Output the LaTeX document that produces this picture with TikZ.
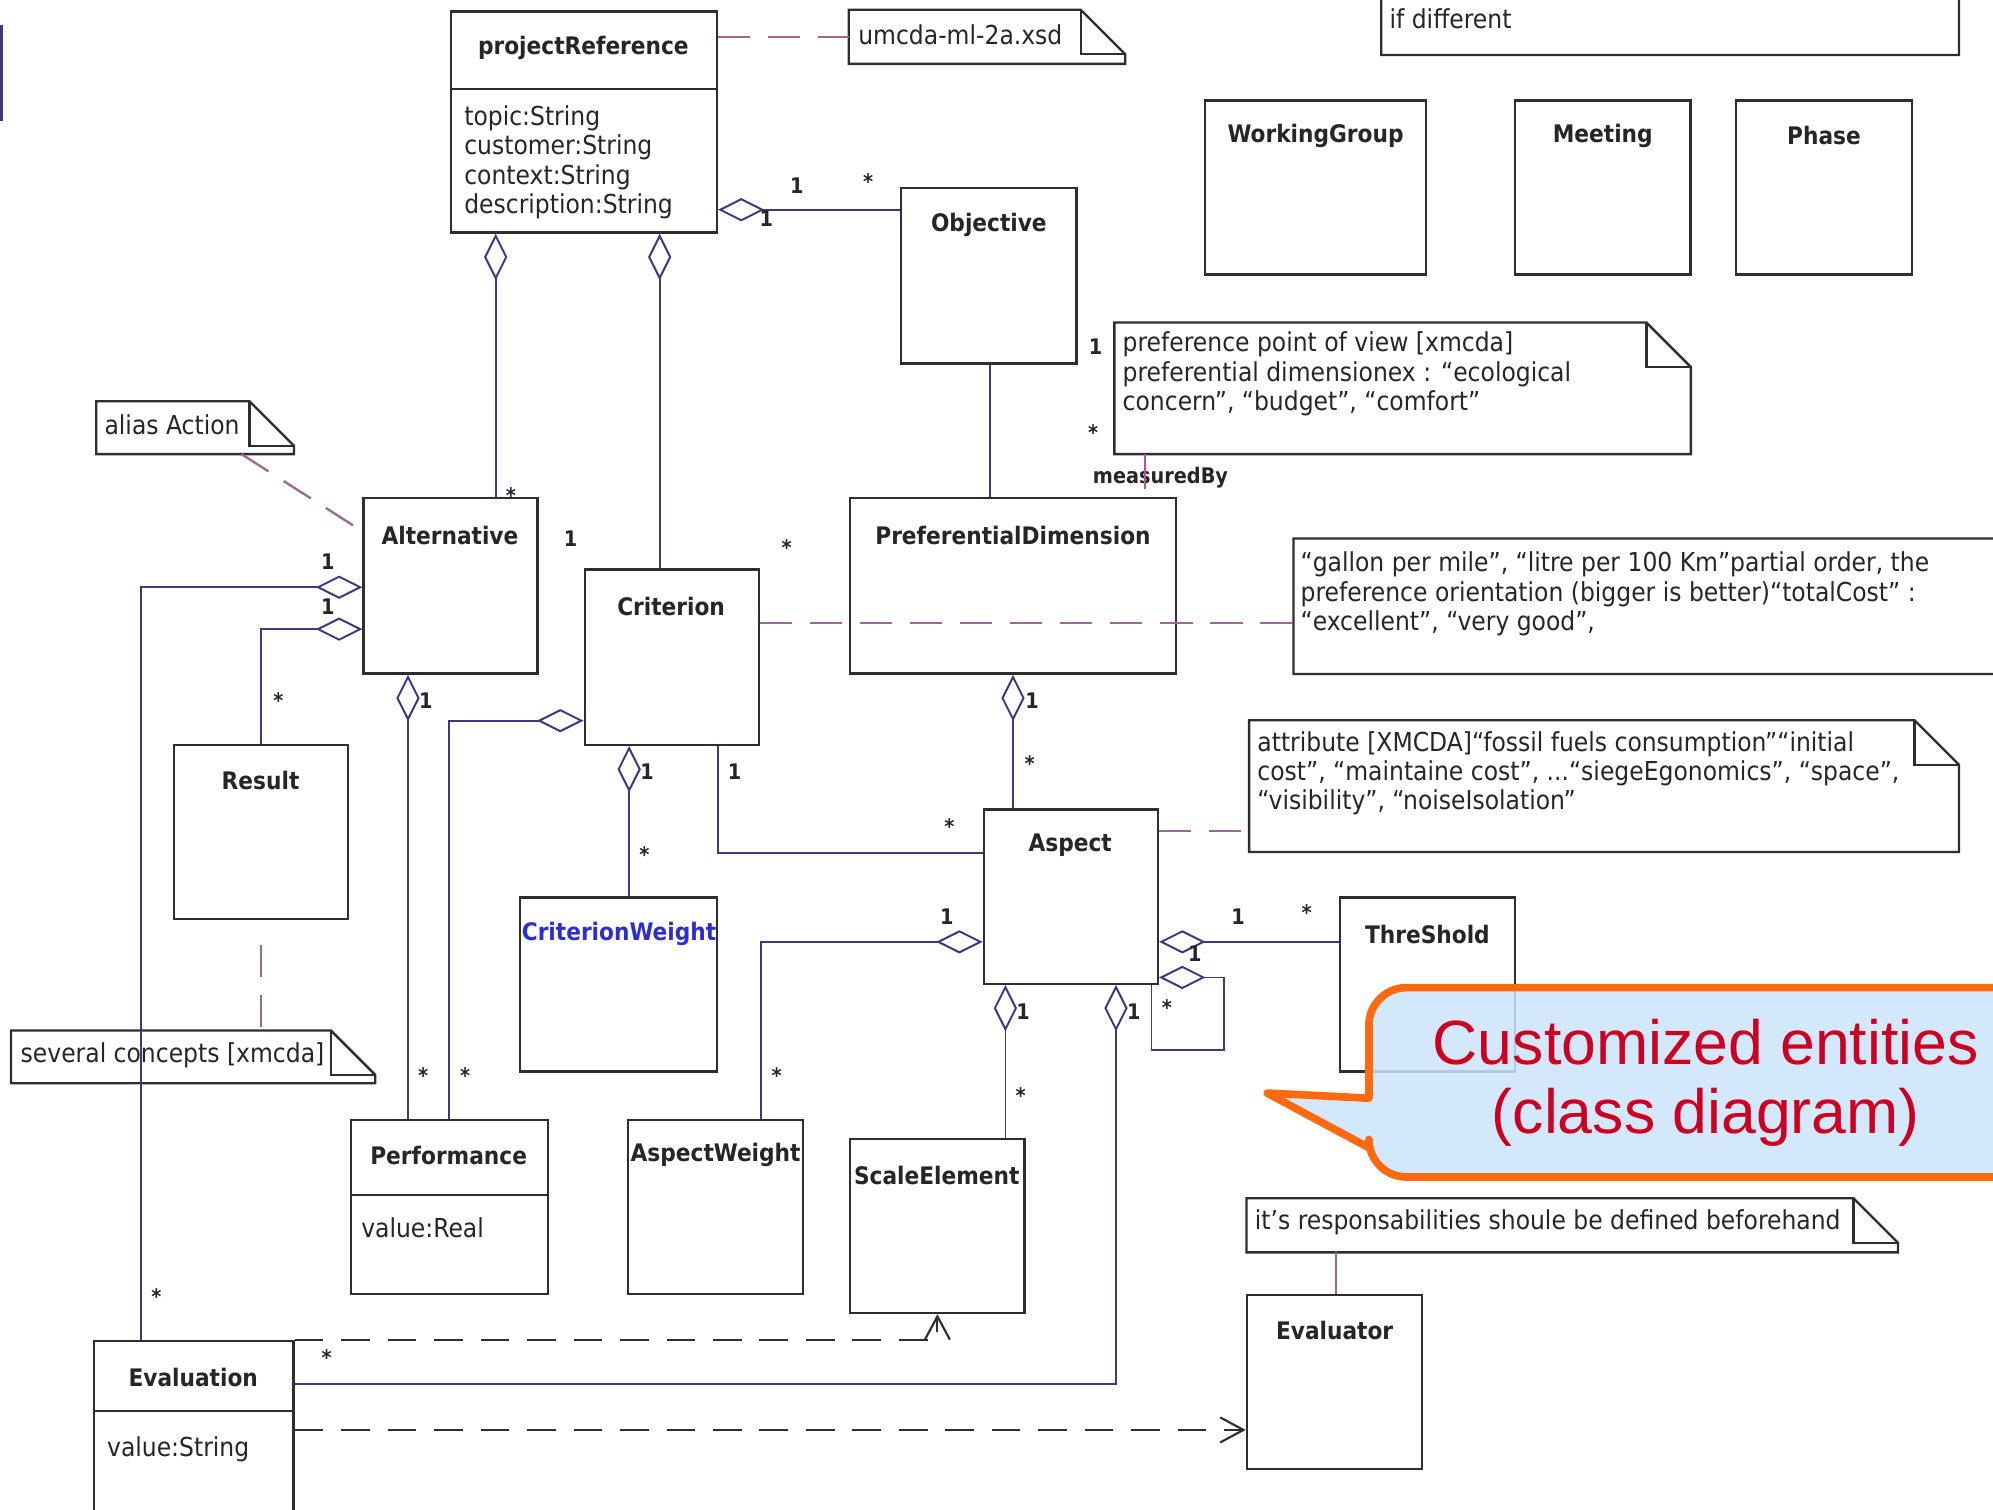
\documentclass[tikz,border=0pt]{standalone}
\usepackage{fontspec}
\setmainfont{DejaVu Sans Condensed}
\newfontfamily\calloutfont{Liberation Sans}
\usepackage{tikz}
\usetikzlibrary{positioning,calc,fit,arrows.meta}

\definecolor{clsline}{HTML}{2E2E2E}
\definecolor{txtgrey}{HTML}{262626}
\definecolor{assocblue}{HTML}{3A3A80}
\definecolor{notepink}{HTML}{9A6A8E}
\definecolor{namblue}{HTML}{2E2ED0}
\definecolor{calloutorange}{HTML}{FF6A10}
\definecolor{calloutblue}{HTML}{CCE4FA}
\definecolor{calloutred}{HTML}{CC0020}

\tikzset{
  cls/.style={draw=clsline, line width=1.3pt, fill=white, inner sep=0pt},
  divider/.style={draw=clsline, line width=1.3pt},
  cname/.style={font=\bfseries\fontsize{13.5}{16}\selectfont, text=txtgrey, inner sep=0pt},
  attrs/.style={font=\fontsize{14.6}{16.4}\selectfont, text=txtgrey, align=left, inner sep=0pt},
  mult/.style={font=\bfseries\fontsize{12}{14}\selectfont, text=txtgrey, inner sep=0pt},
  notebox/.style={inner sep=0pt},
  noteline/.style={draw=clsline, line width=1.3pt},
  assoc/.style={draw=assocblue, line width=1pt},
  agg/.style={assoc, {Diamond[length=26pt, width=13pt, fill=white, line width=1.1pt]}-},
  notelink/.style={draw=notepink, line width=1.3pt, dash pattern=on 18pt off 10pt},
  depend/.style={draw=clsline, line width=1.2pt, dash pattern=on 16pt off 10pt,
    -{Straight Barb[length=13pt, width=14pt, line width=1.2pt]}},
  callout/.style={draw=calloutorange, line width=4.3pt, fill=calloutblue, fill opacity=0.85, line join=round},
  callouttext/.style={font=\calloutfont\fontsize{35}{39}\selectfont, text=calloutred, align=center},
}

% note outline with folded corner
\newcommand{\dogear}[1]{%
  \draw[noteline, fill=white] (#1.south west) -- (#1.north west) -- ($(#1.north east)+(-35,0)$)
    -- ($(#1.north east)+(0,35)$) -- (#1.south east) -- cycle;
  \draw[noteline] ($(#1.north east)+(-35,0)$) |- ($(#1.north east)+(0,35)$);}

\begin{document}
\begin{tikzpicture}[x=0.025cm,y=-0.025cm]
    \useasboundingbox (0,0) rectangle (1568,1188);
    \fill[assocblue] (0,20) rectangle (2.5,95);

    % Classes
    \node[cls, fit={(355,9) (564,183)}] (prj) {};
    \draw[divider] (prj.west |- 0,70) -- (prj.east |- 0,70);
    \node[cname] (prjname) at (459,38) {projectReference};
    \node[attrs, anchor=north west] (prjattr) at (365,83) {topic:String\\customer:String\\context:String\\description:String};

    \node[cls, fit={(709,148) (847,286)}] (obj) {};
    \node[cname] (objname) at (778,177) {Objective};
    \node[cls, fit={(948,79) (1122,216)}] (wg) {};
    \node[cname] (wgname) at (1035,107) {WorkingGroup};
    \node[cls, fit={(1192,79) (1330,216)}] (meet) {};
    \node[cname] (meetname) at (1261,107) {Meeting};
    \node[cls, fit={(1366,79) (1504,216)}] (phase) {};
    \node[cname] (phasename) at (1435,107) {Phase};

    \node[cls, fit={(286,392) (423,530)}] (alt) {};
    \node[cname] (altname) at (354,421) {Alternative};
    \node[cls, fit={(460,448) (597,586)}] (crit) {};
    \node[cname] (critname) at (528,477) {Criterion};
    \node[cls, fit={(669,392) (925,530)}] (pref) {};
    \node[cname] (prefname) at (797,421) {PreferentialDimension};
    \node[cls, fit={(137,586) (274,723)}] (res) {};
    \node[cname] (resname) at (205,614) {Result};
    \node[cls, fit={(409,706) (564,843)}] (cw) {};
    \node[cname, text=namblue] (cwname) at (487,735) {CriterionWeight};
    \node[cls, fit={(774,637) (911,774)}] (asp) {};
    \node[cname] (aspname) at (842,665) {Aspect};
    \node[cls, fit={(1054,706) (1192,843)}] (thr) {};
    \node[cname] (thrname) at (1123,735) {ThreShold};

    \node[cls, fit={(276,881) (431,1018)}] (perf) {};
    \draw[divider] (perf.west |- 0,940) -- (perf.east |- 0,940);
    \node[cname] (perfname) at (353,909) {Performance};
    \node[attrs, anchor=west] (perfattr) at (284,966) {value:Real};
    \node[cls, fit={(494,881) (632,1018)}] (aw) {};
    \node[cname] (awname) at (563,909) {AspectWeight};
    \node[cls, fit={(669,896) (806,1033)}] (scale) {};
    \node[cname] (scalename) at (737,925) {ScaleElement};
    \node[cls, fit={(74,1055) (231,1230)}] (eval) {};
    \draw[divider] (eval.west |- 0,1110) -- (eval.east |- 0,1110);
    \node[cname] (evalname) at (152,1084) {Evaluation};
    \node[attrs, anchor=west] (evalattr) at (84,1140) {value:String};
    \node[cls, fit={(981,1019) (1119,1156)}] (evr) {};
    \node[cname] (evrname) at (1050,1047) {Evaluator};

    % Notes
    \node[notebox, fit={(668,8) (885,50)}] (xsd) {};
    \dogear{xsd}
    \node[attrs, anchor=west] (xsdtext) at (675,27) {umcda-ml-2a.xsd};
    \node[notebox, fit={(1087,-40) (1541,43)}] (top) {};
    \dogear{top}
    \node[attrs, anchor=west] (toptext) at (1093,15) {if different};
    \node[notebox, fit={(877,254) (1330,357)}] (pov) {};
    \dogear{pov}
    \node[attrs, anchor=north west] (povtext) at (883,261) {preference point of view [xmcda]\\preferential dimensionex : “ecological\\concern”, “budget”, “comfort”};
    \node[notebox, fit={(1018,424) (1620,530)}] (gallon) {};
    \dogear{gallon}
    \node[attrs, anchor=north west] (gallontext) at (1023,434) {“gallon per mile”, “litre per 100 Km”partial order, the\\preference orientation (bigger is better)“totalCost” :\\“excellent”, “very good”,};
    \node[notebox, fit={(76,316) (231,357)}] (alias) {};
    \dogear{alias}
    \node[attrs, anchor=west] (aliastext) at (82,334) {alias Action};
    \node[notebox, fit={(983,567) (1541,670)}] (attrnote) {};
    \dogear{attrnote}
    \node[attrs, anchor=north west] (attrtext) at (989,575) {attribute [XMCDA]“fossil fuels consumption”“initial\\cost”, “maintaine cost”, ...“siegeEgonomics”, “space”,\\“visibility”, “noiseIsolation”};
    \node[notebox, fit={(9,811) (295,852)}] (several) {};
    \dogear{several}
    \node[attrs, anchor=west] (severaltext) at (16,830) {several concepts [xmcda]};
    \node[notebox, fit={(981,943) (1493,985)}] (resp) {};
    \dogear{resp}
    \node[attrs, anchor=west] (resptext) at (987,962) {it's responsabilities shoule be defined beforehand};

    % Note links
    \draw[notelink] (prj.east |- 0,29) -- (xsd.west |- 0,29);
    \draw[notelink] (alias.south -| 190,0) -- (alt.west |- 0,418);
    \draw[notelink] ([yshift=-14pt]res.south) -- (several.north -| res.south);
    \draw[notelink] (crit.east |- 0,490) -- (gallon.west |- 0,490);
    \draw[notelink] (asp.east |- 0,654) -- (attrnote.west |- 0,654);
    \draw[notepink, line width=1pt] (resp.south -| 1051,0) -- (evr.north -| 1051,0);
    \node[mult] (measured) at (913,376) {measuredBy};
    \draw[notepink!80!magenta, line width=1pt] (pov.south -| 901,0) -- (measured.south -| 901,0);

    % Associations
    \draw[agg] (prj.east |- 0,165) -- (obj.west |- 0,165);
    \draw[agg] (prj.south -| 390,0) -- (alt.north -| 390,0);
    \draw[agg] (prj.south -| 519,0) -- (crit.north -| 519,0);
    \draw[assoc] (obj.south -| 779,0) -- (pref.north -| 779,0);
    \draw[agg] (alt.west |- 0,462) -| (eval.north -| 111,0);
    \draw[agg] (alt.west |- 0,495) -| (res.north);
    \draw[agg] (alt.south -| 321,0) -- (perf.north -| 321,0);
    \draw[agg] (crit.west |- 0,567) -| (perf.north -| 353,0);
    \draw[agg] (crit.south -| 495,0) -- (cw.north -| 495,0);
    \draw[assoc] (crit.south -| 565,0) |- (asp.west |- 0,671);
    \draw[agg] (pref.south -| 797,0) -- (asp.north -| 797,0);
    \draw[agg] (asp.west |- 0,741) -| (aw.north -| 599,0);
    \draw[agg] (asp.east |- 0,741) -- (thr.west |- 0,741);
    \draw[agg] (asp.east |- 0,769) -| (963,826) -| (asp.south -| 906,0);
    \draw[agg] (asp.south -| 791,0) -- (scale.north -| 791,0);
    \draw[agg] (asp.south -| 878,0) |- (eval.east |- 0,1089);

    % Dependencies
    \draw[depend] (eval.north east) -| (scale.south);
    \draw[depend] (eval.east |- 0,1125) -- (evr.west |- 0,1125);

    % Multiplicities
    \node[mult] (m1) at (627,146) {1};
    \node[mult] (m2) at (683,143) {*};
    \node[mult] (m3) at (603,172) {1};
    \node[mult] (m4) at (402,390) {*};
    \node[mult] (m5) at (449,424) {1};
    \node[mult] (m6) at (619,431) {*};
    \node[mult] (m7) at (862,273) {1};
    \node[mult] (m8) at (860,340) {*};
    \node[mult] (m9) at (258,442) {1};
    \node[mult] (m10) at (258,477) {1};
    \node[mult] (m11) at (219,551) {*};
    \node[mult] (m12) at (335,551) {1};
    \node[mult] (m13) at (333,846) {*};
    \node[mult] (m14) at (366,846) {*};
    \node[mult] (m15) at (123,1020) {*};
    \node[mult] (m16) at (509,607) {1};
    \node[mult] (m17) at (507,672) {*};
    \node[mult] (m18) at (578,607) {1};
    \node[mult] (m19) at (747,650) {*};
    \node[mult] (m20) at (812,551) {1};
    \node[mult] (m21) at (810,601) {*};
    \node[mult] (m22) at (745,721) {1};
    \node[mult] (m23) at (611,846) {*};
    \node[mult] (m24) at (974,721) {1};
    \node[mult] (m25) at (1028,718) {*};
    \node[mult] (m26) at (940,750) {1};
    \node[mult] (m27) at (918,793) {*};
    \node[mult] (m28) at (805,796) {1};
    \node[mult] (m29) at (803,862) {*};
    \node[mult] (m30) at (892,796) {1};
    \node[mult] (m31) at (257,1068) {*};

    % Callout
    \draw[callout] (1077,864) -- (997,860) -- (1077,903) [rounded corners=21pt] -- (1077,926) -- (1640,926)
      -- (1640,777) -- (1077,777) [sharp corners] -- cycle;
    \node[callouttext] (callout) at (1342,852) {Customized entities\\(class diagram)};
\end{tikzpicture}
\end{document}
